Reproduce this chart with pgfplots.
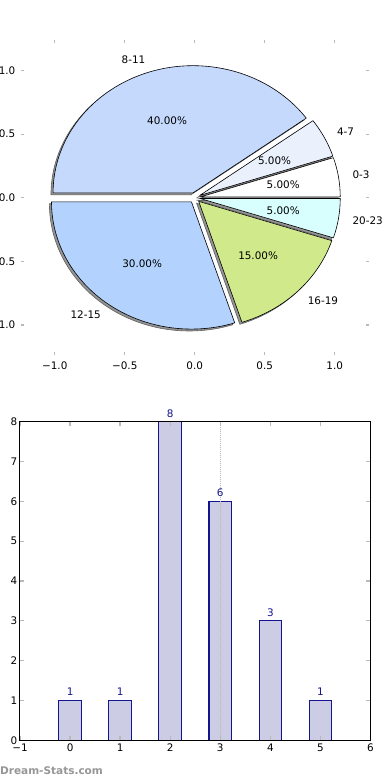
\documentclass[border=0pt]{standalone}
\usepackage{pgfplots}
\pgfplotsset{compat=1.18}
\usepackage{fontspec}
\setmainfont{DejaVu Sans}
\definecolor{cA}{RGB}{255,255,255}
\definecolor{cB}{RGB}{234,241,253}
\definecolor{cC}{RGB}{197,217,253}
\definecolor{cD}{RGB}{179,211,254}
\definecolor{cE}{RGB}{208,234,139}
\definecolor{cF}{RGB}{216,254,254}
\definecolor{barfill}{RGB}{204,204,228}
\definecolor{baredge}{RGB}{20,20,140}
\definecolor{wm}{RGB}{150,150,150}
\definecolor{tickgray}{RGB}{185,185,185}
% #1 cumulative count before slice, #2 count of slice (out of 20)
\newcommand{\pieshadow}[2]{%
  \fill[black!42, draw=black!62, line width=0.6pt]
    ({0.04*cos(9*(2*#1+#2))-0.015},{0.04*sin(9*(2*#1+#2))-0.015})
    -- ({0.04*cos(9*(2*#1+#2))-0.015+cos(18*#1)},{0.04*sin(9*(2*#1+#2))-0.015+sin(18*#1)})
    arc[start angle={18*#1}, end angle={18*(#1+#2)}, x radius=1, y radius=1] -- cycle;}
\newcommand{\pieslice}[3]{%
  \filldraw[fill=#3, draw=black, line width=0.6pt, line join=round]
    ({0.04*cos(9*(2*#1+#2))},{0.04*sin(9*(2*#1+#2))})
    -- ({0.04*cos(9*(2*#1+#2))+cos(18*#1)},{0.04*sin(9*(2*#1+#2))+sin(18*#1)})
    arc[start angle={18*#1}, end angle={18*(#1+#2)}, x radius=1, y radius=1] -- cycle;}
\newcommand{\pielabel}[5]{%
  \node[anchor=#4, inner sep=0pt] at ({1.14*cos(9*(2*#1+#2))},{1.14*sin(9*(2*#1+#2))}) {#3};
  \node[inner sep=0pt] at ({0.64*cos(9*(2*#1+#2))},{0.64*sin(9*(2*#1+#2))}) {#5};}
\begin{document}
\fontsize{10.4pt}{12pt}\selectfont
\begin{tikzpicture}
\begin{axis}[
  at={(20.5pt,424.5pt)}, anchor=south west,
  scale only axis, width=348.5pt, height=315.5pt,
  xmin=-1.245, xmax=1.245, ymin=-1.24, ymax=1.24,
  axis line style={draw=none},
  xtick={-1,-0.5,0,0.5,1}, ytick={-1,-0.5,0,0.5,1},
  xticklabels={−1.0,−0.5,0.0,0.5,1.0},
  yticklabels={−1.0,−0.5,0.0,0.5,1.0},
  tick align=inside, major tick length=3.5pt,
  tick style={color=tickgray, line width=1.2pt},
  xticklabel style={anchor=north, inner sep=0pt, yshift=-5.7pt},
  yticklabel style={anchor=east, inner sep=0pt, xshift=-5pt},
  /pgf/number format/assume math mode=true,
  clip=false,
]
\pieshadow{0}{1}
\pieshadow{1}{1}
\pieshadow{2}{8}
\pieshadow{10}{6}
\pieshadow{16}{3}
\pieshadow{19}{1}
\pieslice{0}{1}{cA}
\pieslice{1}{1}{cB}
\pieslice{2}{8}{cC}
\pieslice{10}{6}{cD}
\pieslice{16}{3}{cE}
\pieslice{19}{1}{cF}
\pielabel{0}{1}{0-3}{west}{5.00\%}
\pielabel{1}{1}{4-7}{west}{5.00\%}
\pielabel{2}{8}{8-11}{east}{40.00\%}
\pielabel{10}{6}{12-15}{east}{30.00\%}
\pielabel{16}{3}{16-19}{west}{15.00\%}
\pielabel{19}{1}{20-23}{west}{5.00\%}
\end{axis}
\begin{axis}[
  at={(20pt,39.7pt)}, anchor=south west,
  scale only axis, width=350.5pt, height=318.6pt,
  xmin=-1, xmax=6, ymin=0, ymax=8,
  xtick={-1,0,1,2,3,4,5,6}, ytick={0,1,2,3,4,5,6,7,8},
  xticklabels={−1,0,1,2,3,4,5,6},
  yticklabels={0,1,2,3,4,5,6,7,8},
  axis line style={black, line width=1pt},
  tick align=inside, major tick length=4pt,
  tick style={color=tickgray, line width=1.3pt},
  xticklabel style={anchor=north, inner sep=0pt, yshift=-3pt},
  yticklabel style={anchor=east, inner sep=0pt, xshift=-2.5pt},
  /pgf/number format/assume math mode=true,
  axis on top, clip=false,
]
\addplot[ybar, bar width=0.45, fill=barfill, draw=baredge, line width=1.1pt,
  nodes near coords,
  nodes near coords style={text=baredge, anchor=south, inner sep=0pt, yshift=4pt}]
  coordinates {(0,1) (1,1) (2,8) (3,6) (4,3) (5,1)};
\addplot[tickgray, line width=1pt, dash pattern=on 1pt off 1pt] coordinates {(3,0) (3,8)};
\end{axis}
\node[anchor=base west, inner sep=0pt, text=wm, font=\bfseries\fontsize{10.5pt}{12pt}\selectfont] at (0pt,5.7pt) {Dream-Stats.com};
\pgfresetboundingbox
\useasboundingbox (0pt,0pt) rectangle (390pt,780pt);
\end{tikzpicture}
\end{document}
